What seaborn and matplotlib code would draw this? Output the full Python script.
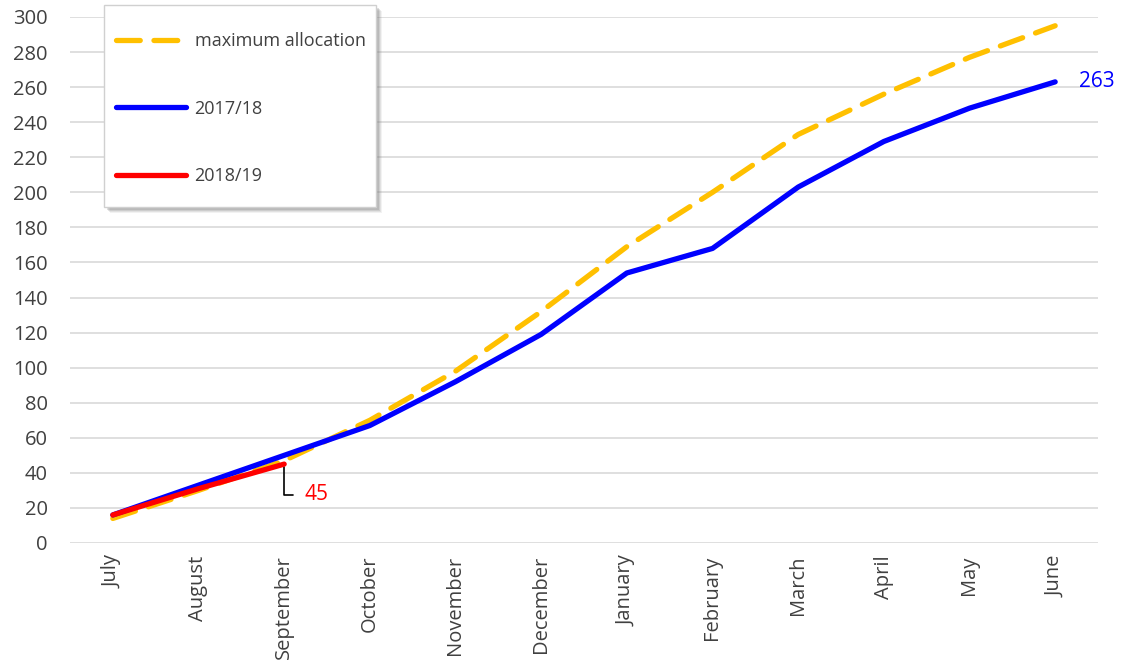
import matplotlib
matplotlib.use("Agg")
import matplotlib.pyplot as plt
from matplotlib.patches import Rectangle
import seaborn as sns
import pandas as pd

months = ["July", "August", "September", "October", "November", "December",
          "January", "February", "March", "April", "May", "June"]
max_allocation = [14, 30, 47, 70, 98, 132, 169, 200, 233, 256, 277, 295]
season_2017_18 = [16, 33, 50, 67, 92, 119, 154, 168, 203, 229, 248, 263]
season_2018_19 = [16, 31, 45]

sns.set_theme(style="white")
plt.rcParams["font.family"] = ["Open Sans", "DejaVu Sans"]

W, H = 1124, 666
fig = plt.figure(figsize=(W / 100, H / 100), dpi=100)
ax = fig.add_axes([70 / W, 1 - 543 / H, 1028 / W, 526 / H])

x_all = list(range(len(months)))
df_max = pd.DataFrame({"x": x_all, "y": max_allocation})
df_a = pd.DataFrame({"x": x_all, "y": season_2017_18})
df_b = pd.DataFrame({"x": x_all[:len(season_2018_19)], "y": season_2018_19})

sns.lineplot(data=df_max, x="x", y="y", ax=ax, color="#FFC000", linewidth=3.8,
             label="maximum allocation", zorder=3)
ax.lines[-1].set_dashes([4.5, 2.6])
ax.lines[-1].set_dash_capstyle("round")
sns.lineplot(data=df_a, x="x", y="y", ax=ax, color="#0000FF", linewidth=3.8,
             label="2017/18", zorder=4)
sns.lineplot(data=df_b, x="x", y="y", ax=ax, color="#FF0000", linewidth=3.8,
             label="2018/19", zorder=5)
for ln in ax.lines:
    ln.set_solid_capstyle("round")

ax.set_xlim(-0.5, len(months) - 0.5)
ax.set_ylim(0, 300)
ax.set_yticks(range(0, 301, 20))
ax.set_xticks(x_all)
ax.set_xticklabels(months, rotation=90)
ax.set_xlabel("")
ax.set_ylabel("")
ax.grid(axis="y", color="#d9d9d9", linewidth=1.2)
ax.set_axisbelow(True)
for s in ax.spines.values():
    s.set_visible(False)
ax.tick_params(axis="both", labelsize=14.5, colors="#404040", length=0)
ax.tick_params(axis="y", pad=16)
ax.tick_params(axis="x", pad=9)

# value labels at the last points
ax.annotate(str(season_2017_18[-1]), xy=(11, season_2017_18[-1]),
            xytext=(17, 0), textcoords="offset points", color="#0000FF",
            fontsize=15, va="center", ha="left")
last_b = len(season_2018_19) - 1
ax.annotate(str(season_2018_19[-1]), xy=(last_b, season_2018_19[-1]),
            xytext=(15, -22), textcoords="offset points", color="#FF0000",
            fontsize=15, va="center", ha="left",
            arrowprops=dict(arrowstyle="-", color="black", lw=1.2,
                            connectionstyle="angle,angleA=0,angleB=90,rad=0",
                            shrinkA=6, shrinkB=2))

# legend box with a soft shadow
bx0, by0, bx1, by1 = 104, 5, 376, 207
for k, a in [(6, 0.10), (5, 0.15), (4, 0.2), (3, 0.25)]:
    fig.patches.append(Rectangle(((bx0 + k) / W, 1 - (by1 + k) / H),
                                 (bx1 - bx0) / W, (by1 - by0) / H,
                                 transform=fig.transFigure, facecolor="#808080",
                                 edgecolor="none", alpha=a, zorder=10))
fig.patches.append(Rectangle((bx0 / W, 1 - by1 / H), (bx1 - bx0) / W,
                             (by1 - by0) / H, transform=fig.transFigure,
                             facecolor="white", edgecolor="#d0d0d0",
                             linewidth=1, zorder=11))

leg = ax.legend(loc="upper left", bbox_to_anchor=(116 / W, 1 - 32 / H),
                bbox_transform=fig.transFigure, frameon=False,
                fontsize=13, labelspacing=2.75, handlelength=3.9,
                borderpad=0, handletextpad=0.45, borderaxespad=0)
leg.set_zorder(12)
leg.remove()
fig.legends.append(leg)
leg.set_figure(fig)
for t in leg.get_texts():
    t.set_color("#404040")

fig.savefig("out.png", dpi=100, facecolor="white")
